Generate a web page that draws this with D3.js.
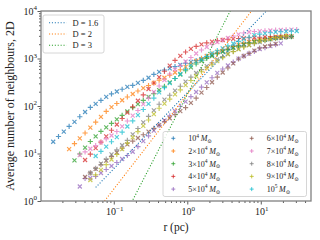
<!DOCTYPE html>
<html><head><meta charset="utf-8">
<script src="https://cdn.jsdelivr.net/npm/d3@7"></script>
<style>body{margin:0;background:#fff}svg{display:block}</style>
</head><body><svg id="c" width="320" height="240"></svg>
<script>
// ---- data ----
const rGrid = [0.0150,0.0177,0.0209,0.0247,0.0292,0.0345,0.0407,0.0480,0.0567,0.0669,
  0.0789,0.0931,0.110,0.130,0.153,0.181,0.213,0.252,0.297,0.351,
  0.414,0.489,0.577,0.681,0.804,0.948,1.12,1.32,1.56,1.84,
  2.17,2.56,3.03,3.57,4.22,4.98,5.87,6.93,8.18,9.66,
  11.4,13.5,15.9,18.7,22.1,26.1,30.8];
const massCoef = ["", "2", "3", "4", "5", "6", "7", "8", "9", ""];
const massExp  = ["4","4","4","4","4","4","4","4","4","5"];
const seriesStart = [0,3,4,6,5,6,5,7,7,8];
const n1e4 = [17.7,22.8,29.0,37.2,46.5,59.5,74.8,93.5,111,131,155,180,202,225,253,272,306,346,393,463,525,573,622,679,736,796,848,908,967,1076,1186,1312,1438,1585,1722,1888,2018,2143,2280,2427,2525,2637,2729,2793,2864,2932];
const n2e4 = [12.4,16.1,20.9,27.0,35.1,45.6,59.0,76.9,94.8,113,132,155,179,207,237,270,306,348,393,445,507,581,668,773,885,1009,1130,1256,1390,1524,1663,1806,1953,2089,2224,2360,2477,2576,2675,2754,2824,2877,2917];
const n3e4 = [7.19,9.76,13.3,17.9,23.0,29.3,35.6,43.2,52.5,63.7,76.9,92.5,110,131,155,182,215,260,313,379,460,551,653,766,885,1009,1130,1256,1384,1524,1671,1815,1953,2100,2236,2360,2477,2586,2687,2767,2837,2891];
const n4e4 = [7.30,9.71,13.0,17.3,23.0,30.8,40.8,54.6,72.6,96.6,129,171,228,305,406,538,709,916,1140,1371,1600,1806,1982,2129,2259,2371,2449,2523,2586,2637,2687,2729,2767,2806,2837,2864,2891,2917,2946];
const n5e4 = [2.02,2.98,3.05,3.28,3.89,4.60,5.46,6.47,7.66,9.08,10.9,14.0,18.2,23.5,30.3,39.2,49.5,62.2,78.5,98.6,124,157,197,249,314,394,498,601,713,839,991,1125,1262,1409,1585,1694,1824,1953,2089];
const n6e4 = [3.20,3.91,4.76,5.81,7.09,8.65,10.5,12.9,15.5,18.2,21.2,24.8,28.9,33.8,39.4,46.7,55.3,65.6,78.2,92.5,116,147,191,245,316,404,507,631,789,975,1130,1286,1459,1663,1791,1914,2029];
const n7e4 = [9.30,10.8,12.6,14.6,17.2,20.3,23.9,29.0,37.4,48.3,62.5,80.4,110,147,197,264,353,472,586,713,865,1050,1274,1510,1746,1972,2224,2449,2702,2979,3230,3443,3614,3701,3776,3829,3884,3941,3981,4018,4058,4079];
const n8e4 = [3.89,4.86,6.10,7.62,9.57,11.9,14.9,18.9,25.2,33.6,45.2,60.4,80.8,109,136,168,210,261,326,406,495,584,689,811,957,1096,1245,1403,1592,1799,1923,2061,2213,2371,2523,2612,2687,2780,2891];
const n9e4 = [2.77,3.54,4.54,5.84,7.48,9.53,12.4,16.5,21.8,28.9,38.3,50.7,67.5,89.5,112,140,175,219,274,344,428,527,625,740,881,1040,1239,1397,1556,1722,1905,2109,2333,2449,2586,2729,2864,3020];
const n1e5 = [8.86,11.1,14.0,17.7,22.1,28.1,37.0,48.8,64.0,84.4,111,147,194,244,303,379,472,590,723,832,962,1107,1280,1459,1641,1841,2070,2301,2547,2806,3110,3251,3375,3491,3614,3664,3724,3758,3793];
const seriesN = [n1e4,n2e4,n3e4,n4e4,n5e4,n6e4,n7e4,n8e4,n9e4,n1e5];
const fracDims = ["1.6","2","3"];
const fracD = [1.6, 2, 3];
const fracA = [190, 178, 176];
const fracR = [0.0567, 60];
const xTickVals = [0.1, 1, 10];
const xTickExp = ["\u22121", "0", "1"];
const yTickVals = [1, 10, 100, 1000, 10000];
const yTickExp = ["0","1","2","3","4"];

// ---- styles ----
const palette = ["#1f77b4","#ff7f0e","#2ca02c","#d62728","#9467bd","#8c564b","#e377c2","#7f7f7f","#bcbd22","#17becf"];
const FONT = "'Liberation Serif','DejaVu Serif',serif";
const L=41, R=311, T=11, B=201;

const svg = d3.select('#c').style('font-family', FONT);
const x = d3.scaleLog().domain([Math.pow(10,-1.99), Math.pow(10,1.683)]).range([L,R]);
const y = d3.scaleLog().domain([1, 1e4]).range([B,T]);

svg.append('defs').append('clipPath').attr('id','clip')
  .append('rect').attr('x',L).attr('y',T).attr('width',R-L).attr('height',B-T);

function minorTicks(domain){
  const out=[]; const lo=Math.floor(Math.log10(domain[0])), hi=Math.ceil(Math.log10(domain[1]));
  for(let e=lo;e<hi;e++) for(let k=2;k<=9;k++){const v=k*Math.pow(10,e); if(v>=domain[0]&&v<=domain[1]) out.push(v);}
  return out;
}
const tickCol = '#333';
const gx = svg.append('g').attr('transform',`translate(0,${B})`);
gx.call(d3.axisBottom(x).tickValues(minorTicks(x.domain())).tickSize(2).tickSizeOuter(0).tickFormat(''));
gx.append('g').call(d3.axisBottom(x).tickValues(xTickVals).tickSize(3.5).tickSizeOuter(0).tickFormat(''));
const gy = svg.append('g').attr('transform',`translate(${L},0)`);
gy.call(d3.axisLeft(y).tickValues(minorTicks(y.domain())).tickSize(2).tickSizeOuter(0).tickFormat(''));
gy.append('g').call(d3.axisLeft(y).tickValues(yTickVals).tickSize(3.5).tickSizeOuter(0).tickFormat(''));
svg.selectAll('.domain').remove();
svg.selectAll('.tick line').attr('stroke',tickCol).attr('stroke-width',0.8);

xTickVals.forEach((v,i)=>{
  const t = svg.append('text').attr('x',x(v)+1).attr('y',B+14).attr('text-anchor','middle')
    .attr('font-size',10).attr('fill','#222');
  t.append('tspan').text('10');
  t.append('tspan').attr('font-size',7).attr('dy',-4.5).text(xTickExp[i]);
});
yTickVals.forEach((v,i)=>{
  const t = svg.append('text').attr('x',L-4).attr('y',y(v)+3.5).attr('text-anchor','end')
    .attr('font-size',10).attr('fill','#222');
  t.append('tspan').text('10');
  t.append('tspan').attr('font-size',7).attr('dy',-4.5).text(yTickExp[i]);
});

svg.append('text').attr('x',176).attr('y',231).attr('text-anchor','middle')
  .attr('font-size',11.5).attr('fill','#222').text('r (pc)');
svg.append('text').attr('transform',`translate(14,${(T+B)/2}) rotate(-90)`).attr('text-anchor','middle')
  .attr('font-size',12).attr('fill','#222').text('Average number of neighbours, 2D');

const plot = svg.append('g').attr('clip-path','url(#clip)');

const xPath = 'M-2,-2L2,2M-2,2L2,-2';
const pPath = 'M-2.6,0H2.6M0,-2.6V2.6';
seriesN.forEach((arr,s)=>{
  const pts = arr.map((n,j)=>({r:rGrid[seriesStart[s]+j], n, j}));
  plot.append('g').selectAll('path').data(pts).join('path')
    .attr('transform',d=>`translate(${x(d.r)},${y(d.n)})`)
    .attr('d',d=> d.j%2===0 ? xPath : pPath)
    .attr('fill','none').attr('stroke',palette[s]).attr('stroke-width',1.15).attr('stroke-opacity',0.75);
});

const line = d3.line().x(d=>x(d[0])).y(d=>y(d[1]));
fracD.forEach((D,i)=>{
  const pts = d3.range(0,61).map(k=>{const r=fracR[0]*Math.pow(fracR[1]/fracR[0],k/60); return [r, fracA[i]*Math.pow(r,D)];});
  plot.append('path').attr('d',line(pts)).attr('fill','none').attr('stroke',palette[i])
    .attr('stroke-width',1.1).attr('stroke-dasharray','1.1,1.8');
});

svg.append('rect').attr('x',L).attr('y',T).attr('width',R-L).attr('height',B-T)
  .attr('fill','none').attr('stroke','#808080').attr('stroke-width',1.3);

const lg1 = svg.append('g');
lg1.append('rect').attr('x',43).attr('y',15).attr('width',61).attr('height',38).attr('rx',2)
  .attr('fill','#fff').attr('fill-opacity',0.8).attr('stroke','#ccc').attr('stroke-width',0.8);
fracDims.forEach((d,i)=>{
  const yy = 22.7 + i*11.3;
  lg1.append('line').attr('x1',49).attr('x2',66.5).attr('y1',yy).attr('y2',yy)
    .attr('stroke',palette[i]).attr('stroke-width',1.1).attr('stroke-dasharray','1.1,1.8');
  lg1.append('text').attr('x',72.5).attr('y',yy+3).attr('font-size',8.5).attr('fill','#222').text('D = '+d);
});

const lg2 = svg.append('g');
lg2.append('rect').attr('x',163).attr('y',131.5).attr('width',143.5).attr('height',65).attr('rx',2)
  .attr('fill','#fff').attr('fill-opacity',0.8).attr('stroke','#ccc').attr('stroke-width',0.8);
seriesN.forEach((arr,s)=>{
  const col = Math.floor(s/5), row = s%5;
  const mx = col===0 ? 173.3 : 251.7;
  const my = 138.3 + row*12.7;
  lg2.append('path').attr('transform',`translate(${mx},${my})`).attr('d','M-2,0H2M0,-2V2')
    .attr('stroke',palette[s]).attr('stroke-width',1).attr('stroke-opacity',0.8).attr('fill','none');
  const t = lg2.append('text').attr('x',mx+15).attr('y',my+2.8).attr('font-size',8).attr('fill','#222');
  t.append('tspan').text(massCoef[s] ? massCoef[s]+'\u00d710' : '10');
  t.append('tspan').attr('font-size',5.5).attr('dy',-3.5).text(massExp[s]);
  t.append('tspan').attr('dy',3.5).text('\u2009');
  t.append('tspan').attr('font-style','italic').text('M');
  t.append('tspan').attr('font-size',5.5).attr('dy',1.8).text('\u2299');
});
</script></body></html>
